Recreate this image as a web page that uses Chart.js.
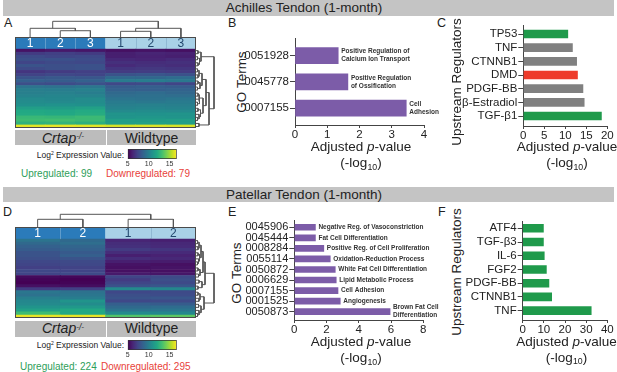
<!DOCTYPE html>
<html><head><meta charset="utf-8">
<script src="https://cdn.jsdelivr.net/npm/chart.js"></script>
<style>
html,body{margin:0;padding:0;background:#fff;width:617px;height:372px;overflow:hidden;position:relative;font-family:"Liberation Sans",Arial,sans-serif;color:#222}
canvas{position:absolute}
.t{position:absolute;white-space:nowrap;line-height:1}
.box{position:absolute}
.sup{position:relative;top:-0.45em;font-size:0.6em}
.sub{position:relative;top:0.3em;font-size:0.65em}
</style></head><body>
<script>
// ---------------- DATA ----------------
const CMIN = 5, CMAX = 16.7;
const colorbarTicks = [5, 10, 15];

// Heatmap A (Achilles) : log2 expression, rows top -> bottom
const achSamples = ['Crtap 1','Crtap 2','Crtap 3','WT 1','WT 2','WT 3'];
const achReps = ['1','2','3','1','2','3'];
const achGroups = ['Crtap','Crtap','Crtap','WT','WT','WT'];
const achCrtap1 = [5.6,7.0,7.6,7.8,7.4,8.0,7.6,6.8,7.3,8.0,8.5,7.8,9.5,10.0,10.0,10.2,10.5,10.6,10.8,11.5,12.0,12.1,12.8,13.0,12.5,16.2];
const achCrtap2 = [5.8,7.2,7.4,7.9,7.6,7.8,7.8,7.0,7.5,8.2,8.4,7.7,9.4,9.9,10.1,10.3,10.4,10.5,10.9,11.4,11.9,12.0,12.7,13.1,12.6,16.3];
const achCrtap3 = [5.7,7.0,7.5,7.7,7.5,7.9,7.9,7.2,7.4,8.1,8.6,7.9,9.6,10.1,9.9,10.2,10.6,10.6,10.8,11.6,12.1,12.2,12.9,12.9,12.4,16.2];
const achWT1 = [5.5,6.0,6.0,6.3,6.6,6.4,6.8,7.0,8.0,9.0,9.8,7.5,8.4,8.6,9.0,9.2,9.5,9.8,10.0,10.2,10.5,11.0,11.0,11.5,11.5,16.0];
const achWT2 = [5.6,6.2,6.1,6.2,6.5,6.6,6.9,7.1,8.1,8.9,9.9,7.6,8.5,8.5,9.1,9.3,9.4,9.7,10.1,10.3,10.6,10.9,11.1,11.4,11.6,16.1];
const achWT3 = [5.5,6.1,6.0,6.4,6.6,6.5,6.8,7.0,7.9,9.1,9.7,7.4,8.4,8.7,8.9,9.2,9.6,9.8,10.0,10.2,10.5,11.0,11.0,11.5,11.5,16.0];
// column dendrogram: [height, left, right], leaves = column index
const achColTree = [1.0, [0.554, 0, [0.40, 1, 2]], [0.554, [0.363, 3, 4], 5]];
// row dendrogram (heights in arbitrary units), leaves = row index
const achRowTree = [18,
  [5, [2, 0, 1], [3.5, [1.5, 2, 3], [2, 4, 5]]],
  [13,
    [10,
      [6, [3, [1.5, 6, 7], [2, 8, 9]], [4, [2, 10, 11], [1.5, 12, 13]]],
      [7, [3, [2, 14, 15], [3.5, 16, [1.5, 17, 18]]], [4.5, [2, 19, 20], [3, 21, [1.5, 22, 23]]]]],
    [3, 24, 25]]];
const achUp = 99, achDown = 79;

// Heatmap D (Patellar)
const patSamples = ['Crtap 1','Crtap 2','WT 1','WT 2'];
const patReps = ['1','2','1','2'];
const patGroups = ['Crtap','Crtap','WT','WT'];
const patCrtap1 = [9.5,9.0,8.6,8.4,8.0,8.0,7.8,7.5,7.4,7.2,7.5,7.4,5.3,5.1,5.0,5.5,7.0,9.6,9.4,10.0,10.4,10.5,11.0,11.6,13.0,16.3];
const patCrtap2 = [9.0,9.2,8.8,8.6,8.3,8.5,8.0,7.6,7.5,7.3,7.4,7.6,5.2,5.0,5.1,5.4,7.2,9.4,9.6,9.9,11.0,10.6,11.2,12.0,12.0,16.3];
const patWT1 = [6.2,6.5,6.6,7.0,6.5,6.0,6.5,6.0,5.6,5.5,5.5,5.8,7.4,7.0,7.4,7.9,10.5,7.5,7.8,8.0,7.5,8.5,9.0,9.5,10.5,13.5];
const patWT2 = [6.0,6.3,6.4,6.8,6.4,6.1,6.3,5.9,5.5,5.6,5.5,5.7,7.6,7.8,7.6,8.1,10.4,7.6,7.7,8.1,7.6,8.4,9.1,9.6,10.4,13.7];
const patColTree = [1.0, [0.606, 0, 1], [0.606, 2, 3]];
const patRowTree = [18,
  [9,
    [7, [5, [3, [1.5, 0, 1], [2, 2, 3]], [3.5, [2, 4, 5], [2.5, 6, [1.5, 7, 8]]]], [4, [2, 9, 10], [2.5, 11, 12]]],
    [6, [3, 13, 14], [2, 15, 16]]],
  [8, [4, [2, 17, 18], [3, 19, 20]], [5, [2.5, 21, 22], [3, 23, [1.5, 24, 25]]]]];
const patUp = 224, patDown = 295;

// Panel B
const goAchTerms = ['0051928','0045778','0007155'];
const goAchValues = [1.34, 1.64, 3.45];
const goAchNames = [['Positive Regulation of','Calcium Ion Transport'],['Positive Regulation','of Ossification'],['Cell','Adhesion']];
const goAchTicks = [0, 1, 2, 3, 4];
// Panel C
const regAchNames = ['TP53','TNF','CTNNB1','DMD','PDGF-BB','β-Estradiol','TGF-β1'];
const regAchValues = [10.6, 11.7, 12.7, 12.9, 14.2, 14.5, 18.6];
const regAchDir = ['up','none','none','down','none','none','up'];
const regAchTicks = [0, 5, 10, 15, 20];
// Panel E
const goPatTerms = ['0045906','0045444','0008284','0055114','0050872','0006629','0007155','0001525','0050873'];
const goPatValues = [1.31, 1.31, 1.83, 2.23, 2.54, 2.60, 2.71, 2.85, 5.94];
const goPatNames = [['Negative Reg. of Vasoconstriction'],['Fat Cell Differentiation'],['Positive Reg. of Cell Proliferation'],['Oxidation-Reduction Process'],['White Fat Cell Differentiation'],['Lipid Metabolic Process'],['Cell Adhesion'],['Angiogenesis'],['Brown Fat Cell','Differentiation']];
const goPatTicks = [0, 2, 4, 6, 8];
// Panel F
const regPatNames = ['ATF4','TGF-β3','IL-6','FGF2','PDGF-BB','CTNNB1','TNF'];
const regPatValues = [9.8, 9.8, 10.2, 11.2, 12.4, 13.7, 32.4];
const regPatDir = ['up','up','up','up','up','up','up'];
const regPatTicks = [0, 10, 20, 30, 40];

// ---------------- STYLE / HELPERS ----------------
const FONT = '"Liberation Sans", Arial, sans-serif';
Chart.defaults.font.family = FONT;
Chart.defaults.color = '#222';
Chart.defaults.animation = false;
Chart.defaults.responsive = false;
Chart.defaults.maintainAspectRatio = false;
Chart.defaults.devicePixelRatio = 1;
Chart.defaults.events = [];
Chart.defaults.plugins.legend.display = false;
Chart.defaults.plugins.tooltip.enabled = false;

const VIR = ['#440154','#482475','#414487','#355f8d','#2a788e','#21918c','#22a884','#44bf70','#7ad151','#bddf26','#fde725'];
function hex(c){return [parseInt(c.slice(1,3),16),parseInt(c.slice(3,5),16),parseInt(c.slice(5,7),16)];}
function viridis(v){
  let t=(v-CMIN)/(CMAX-CMIN); t=Math.max(0,Math.min(1,t));
  const p=t*10, i=Math.min(9,Math.floor(p)), f=p-i;
  const a=hex(VIR[i]), b=hex(VIR[i+1]);
  return 'rgb('+a.map((x,k)=>Math.round(x+(b[k]-x)*f)).join(',')+')';
}
const DIRCOL = {up:'#1f9a4b', down:'#ee3b2b', none:'#808080'};
const PURPLE = '#7c5ca8';

function cv(x,y,w,h){const c=document.createElement('canvas');c.width=w;c.height=h;c.style.left=x+'px';c.style.top=y+'px';c.style.width=w+'px';c.style.height=h+'px';document.body.appendChild(c);return c;}
function txt(html,x,base,size,opt){
  opt=opt||{};
  const d=document.createElement('div');d.className='t';d.innerHTML=html;
  d.style.fontSize=size+'px';d.style.top=(base-0.8465*size)+'px';
  if(opt.color)d.style.color=opt.color;
  if(opt.italic)d.style.fontStyle='italic';
  if(opt.align==='center'){d.style.left=x+'px';d.style.transform='translateX(-50%)';}
  else if(opt.align==='right'){d.style.right=(617-x)+'px';}
  else d.style.left=x+'px';
  document.body.appendChild(d);return d;
}
function vtxt(html,cx,cy,size){
  const d=document.createElement('div');d.className='t';d.innerHTML=html;d.style.fontSize=size+'px';
  d.style.left=cx+'px';d.style.top=cy+'px';d.style.transform='translate(-50%,-50%) rotate(-90deg)';
  document.body.appendChild(d);
}
function box(x,y,w,h,col){
  const d=document.createElement('div');d.className='box';
  Object.assign(d.style,{left:x+'px',top:y+'px',width:w+'px',height:h+'px',background:col});
  document.body.appendChild(d);return d;
}

// ---------------- PLUGINS ----------------
const heatPlugin = {id:'heat', afterDatasetsDraw(chart,args,o){
  const ctx=chart.ctx, a=chart.chartArea, xs=chart.scales.x, ys=chart.scales.y;
  ctx.save();
  const hy0=ys.getPixelForValue(o.nRows+o.header), hy1=ys.getPixelForValue(o.nRows);
  ctx.lineWidth=1;
  for(let i=1;i<o.reps.length;i++){
    if(o.groups[i]!==o.groups[i-1]) continue;
    const x=Math.round((xs.getPixelForValue(i-1)+xs.getPixelForValue(i))/2)+0.5;
    ctx.strokeStyle=o.groups[i]==='WT'?'rgba(70,110,150,0.25)':'rgba(255,255,255,0.25)';
    ctx.beginPath();ctx.moveTo(x,hy0);ctx.lineTo(x,hy1);ctx.stroke();
  }
  ctx.font='12px '+FONT;ctx.textAlign='center';ctx.textBaseline='middle';
  o.reps.forEach((r,i)=>{ctx.fillStyle=o.groups[i]==='WT'?'#24496e':'#ffffff';ctx.fillText(r,xs.getPixelForValue(i),(hy0+hy1)/2+1);});
  ctx.strokeStyle='#4a4a4a';ctx.strokeRect(a.left+0.5,a.top+0.5,a.width-1,a.height-1);
  ctx.restore();
}};
const barLabelPlugin = {id:'barLabels', afterDatasetsDraw(chart,args,o){
  if(!o||!o.labels) return;
  const ctx=chart.ctx, xs=chart.scales.x, ys=chart.scales.y;
  ctx.save();ctx.font='bold 6.5px '+FONT;ctx.fillStyle='#333';ctx.textBaseline='middle';ctx.textAlign='left';
  o.labels.forEach((lines,i)=>{
    const x=xs.getPixelForValue(o.values[i])+3, y=ys.getPixelForValue(i);
    lines.forEach((ln,j)=>ctx.fillText(ln,x,y+(j-(lines.length-1)/2)*8));
  });
  ctx.restore();
}};

// ---------------- CHART BUILDERS ----------------
function heatmap(canvas,samples,groups,reps,cols){
  const nRows=cols[0].length, HEAD=4, datasets=[];
  for(let r=nRows-1;r>=0;r--) datasets.push({data:cols.map(()=>1),backgroundColor:cols.map(c=>viridis(c[r])),borderWidth:0,barPercentage:1,categoryPercentage:1});
  datasets.push({data:cols.map(()=>HEAD),backgroundColor:groups.map(g=>g==='WT'?'#a9d1e7':'#2b7bba'),borderWidth:0,barPercentage:1,categoryPercentage:1});
  new Chart(canvas,{type:'bar',data:{labels:samples,datasets},
    options:{layout:{padding:0},scales:{x:{display:false,stacked:true},y:{display:false,stacked:true,min:0,max:nRows+HEAD}},
      plugins:{heat:{nRows,header:HEAD,reps,groups}}},plugins:[heatPlugin]});
}
function dendro(canvas,tree,orient,leafMin,leafMax,hMax){
  const datasets=[];
  (function walk(n){
    if(typeof n==='number') return {p:n+0.5,h:0};
    const h=n[0], a=walk(n[1]), b=walk(n[2]);
    const pts = orient==='top'
      ? [{x:a.p,y:a.h},{x:a.p,y:h},{x:b.p,y:h},{x:b.p,y:b.h}]
      : [{x:a.h,y:a.p},{x:h,y:a.p},{x:h,y:b.p},{x:b.h,y:b.p}];
    datasets.push({data:pts,showLine:true,pointRadius:0,borderColor:'#555',borderWidth:1,tension:0,clip:false});
    return {p:(a.p+b.p)/2,h};
  })(tree);
  const leafAxis={type:'linear',min:leafMin,max:leafMax,display:false};
  const hAxis={type:'linear',min:0,max:hMax,display:false};
  new Chart(canvas,{type:'scatter',data:{datasets},
    options:{layout:{padding:0},scales: orient==='top'?{x:leafAxis,y:hAxis}:{x:hAxis,y:Object.assign({reverse:true},leafAxis)}}});
}
function colorbar(canvas,padL,padR){
  new Chart(canvas,{type:'bar',data:{labels:[''],datasets:[{data:[[CMIN,CMAX]],borderColor:'#333',borderWidth:1,borderSkipped:false,barPercentage:1,categoryPercentage:1,
      backgroundColor:(c)=>{const ch=c.chart;if(!ch.chartArea)return '#21918c';const xs=ch.scales.x;
        const g=ch.ctx.createLinearGradient(xs.getPixelForValue(CMIN),0,xs.getPixelForValue(CMAX),0);VIR.forEach((col,i)=>g.addColorStop(i/10,col));return g;}}]},
    options:{indexAxis:'y',layout:{padding:{left:padL,right:padR,top:0,bottom:0}},
      scales:{y:{display:false},
        x:{type:'linear',min:CMIN,max:CMAX,afterBuildTicks:s=>{s.ticks=colorbarTicks.map(v=>({value:v}));},afterFit:s=>{s.height=9;},
           grid:{display:false,drawTicks:false},border:{display:false},ticks:{font:{size:7},color:'#333',padding:1,maxRotation:0}}}}});
}
function hbar(canvas,o){
  const data=o.values.map((v,i)=>({x:v,y:i}));
  new Chart(canvas,{type:'bar',data:{datasets:[{data,backgroundColor:o.colors,barThickness:o.thick,borderWidth:0}]},
    options:{indexAxis:'y',layout:{padding:{top:o.padTop,right:o.padRight,left:0,bottom:0}},
      scales:{
        y:{type:'linear',reverse:true,min:o.yMin,max:o.yMax,offset:false,
           afterBuildTicks:s=>{s.ticks=o.cats.map((c,i)=>({value:i}));},afterFit:s=>{s.width=o.yW;},
           ticks:{callback:v=>o.cats[v],autoSkip:false,font:{size:o.catSize},color:'#222',padding:1},
           grid:{offset:false,drawOnChartArea:false,tickLength:5,color:'#444'},border:{color:'#444',width:1}},
        x:{type:'linear',min:0,max:o.xMax,offset:false,
           afterBuildTicks:s=>{s.ticks=o.xTicks.map(v=>({value:v}));},afterFit:s=>{s.height=15;},
           ticks:{font:{size:o.tickSize},color:'#222',padding:0,maxRotation:0},
           grid:{offset:false,drawOnChartArea:false,tickLength:3,color:'#444'},border:{color:'#444',width:1}}},
      plugins:{barLabels:o.labels?{labels:o.labels,values:o.values}:{labels:null}}},
    plugins:[barLabelPlugin]});
}

// ---------------- LAYOUT ----------------
box(3,0,611,16,'#c4c4c4');
txt('Achilles Tendon (1-month)',304,12.5,13.5,{align:'center'});
box(3,187,611,15,'#c4c4c4');
txt('Patellar Tendon (1-month)',304,199,13.5,{align:'center'});
txt('A',4,28,12.5);txt('B',228,28,12.5);txt('C',437,28,12.5);
txt('D',3,217,12.5);txt('E',228,217,12.5);txt('F',438,217,12.5);

// ---- Panel A ----
dendro(cv(15,17,181,20),achColTree,'top',0,6,20/15.7);
heatmap(cv(15,37,181,91),achSamples,achGroups,achReps,[achCrtap1,achCrtap2,achCrtap3,achWT1,achWT2,achWT3]);
dendro(cv(196,37,20,91),achRowTree,'right',-4,26,20);
box(15,130,91,15,'#bcbcbc');box(107,130,89,15,'#bcbcbc');
txt('Crtap<span class="sup">-/-</span>',63,142.7,14,{align:'center',italic:true});
txt('Wildtype',151.5,142.7,14,{align:'center'});
txt('Log<span class="sup">2</span> Expression Value:',124,157.8,8.5,{align:'right'});
colorbar(cv(124,149,57,19),3.7,4.3);
txt('Upregulated: '+achUp,21,177.3,10,{color:'#2e9e5a'});
txt('Downregulated: '+achDown,106,177.3,10,{color:'#e8423a'});

// ---- Panel D ----
dendro(cv(15,212,181,15),patColTree,'top',0,4,15/12.7);
heatmap(cv(15,227,181,91),patSamples,patGroups,patReps,[patCrtap1,patCrtap2,patWT1,patWT2]);
dendro(cv(196,227,20,91),patRowTree,'right',-4,26,20);
box(15,321,91,16,'#bcbcbc');box(107,321,89,16,'#bcbcbc');
txt('Crtap<span class="sup">-/-</span>',63,333.3,14,{align:'center',italic:true});
txt('Wildtype',151.5,333.3,14,{align:'center'});
txt('Log<span class="sup">2</span> Expression Value:',124,347.8,8.5,{align:'right'});
colorbar(cv(124,340,57,19),3.7,4.3);
txt('Upregulated: '+patUp,20,370,10,{color:'#2e9e5a'});
txt('Downregulated: '+patDown,101,370,10,{color:'#e8423a'});

// ---- Panel B ----
vtxt('GO Terms',241.7,81.7,13.5);
hbar(cv(245,30,205,110),{cats:goAchTerms,values:goAchValues,colors:goAchValues.map(()=>PURPLE),thick:16,
  yMin:-0.664,yMax:2.645,xMax:4,xTicks:goAchTicks,yW:50,padTop:8.3,padRight:26,catSize:11.5,tickSize:11.5,labels:goAchNames});
txt('Adjusted <i>p</i>-value',361,151.7,13.5,{align:'center'});
txt('(-log<span class="sub">10</span>)',361,167.5,13.5,{align:'center'});

// ---- Panel C ----
vtxt('Upstream Regulators',456.7,81.5,13.5);
hbar(cv(462,15,155,126),{cats:regAchNames,values:regAchValues,colors:regAchDir.map(d=>DIRCOL[d]),thick:8,
  yMin:-0.66,yMax:6.73,xMax:20,xTicks:regAchTicks,yW:61.3,padTop:10,padRight:9.7,catSize:11.5,tickSize:11.5});
txt('Adjusted <i>p</i>-value',567,151.7,13.5,{align:'center'});
txt('(-log<span class="sub">10</span>)',567,167.5,13.5,{align:'center'});

// ---- Panel E ----
vtxt('GO Terms',236.7,273,13.5);
hbar(cv(243,212,200,123),{cats:goPatTerms,values:goPatValues,colors:goPatValues.map(()=>PURPLE),thick:6,
  yMin:-0.69,yMax:8.79,xMax:8,xTicks:goPatTicks,yW:51.3,padTop:8,padRight:19.7,catSize:11,tickSize:11.5,labels:goPatNames});
txt('Adjusted <i>p</i>-value',361,346.7,13.5,{align:'center'});
txt('(-log<span class="sub">10</span>)',361,362.5,13.5,{align:'center'});

// ---- Panel F ----
vtxt('Upstream Regulators',456.7,271.7,13.5);
hbar(cv(462,212,155,123),{cats:regPatNames,values:regPatValues,colors:regPatDir.map(d=>DIRCOL[d]),thick:8,
  yMin:-0.48,yMax:6.68,xMax:40,xTicks:regPatTicks,yW:60.7,padTop:9.7,padRight:9.7,catSize:11.5,tickSize:11.5});
txt('Adjusted <i>p</i>-value',566.5,346,13.5,{align:'center'});
txt('(-log<span class="sub">10</span>)',566.5,362,13.5,{align:'center'});
</script>
</body></html>
